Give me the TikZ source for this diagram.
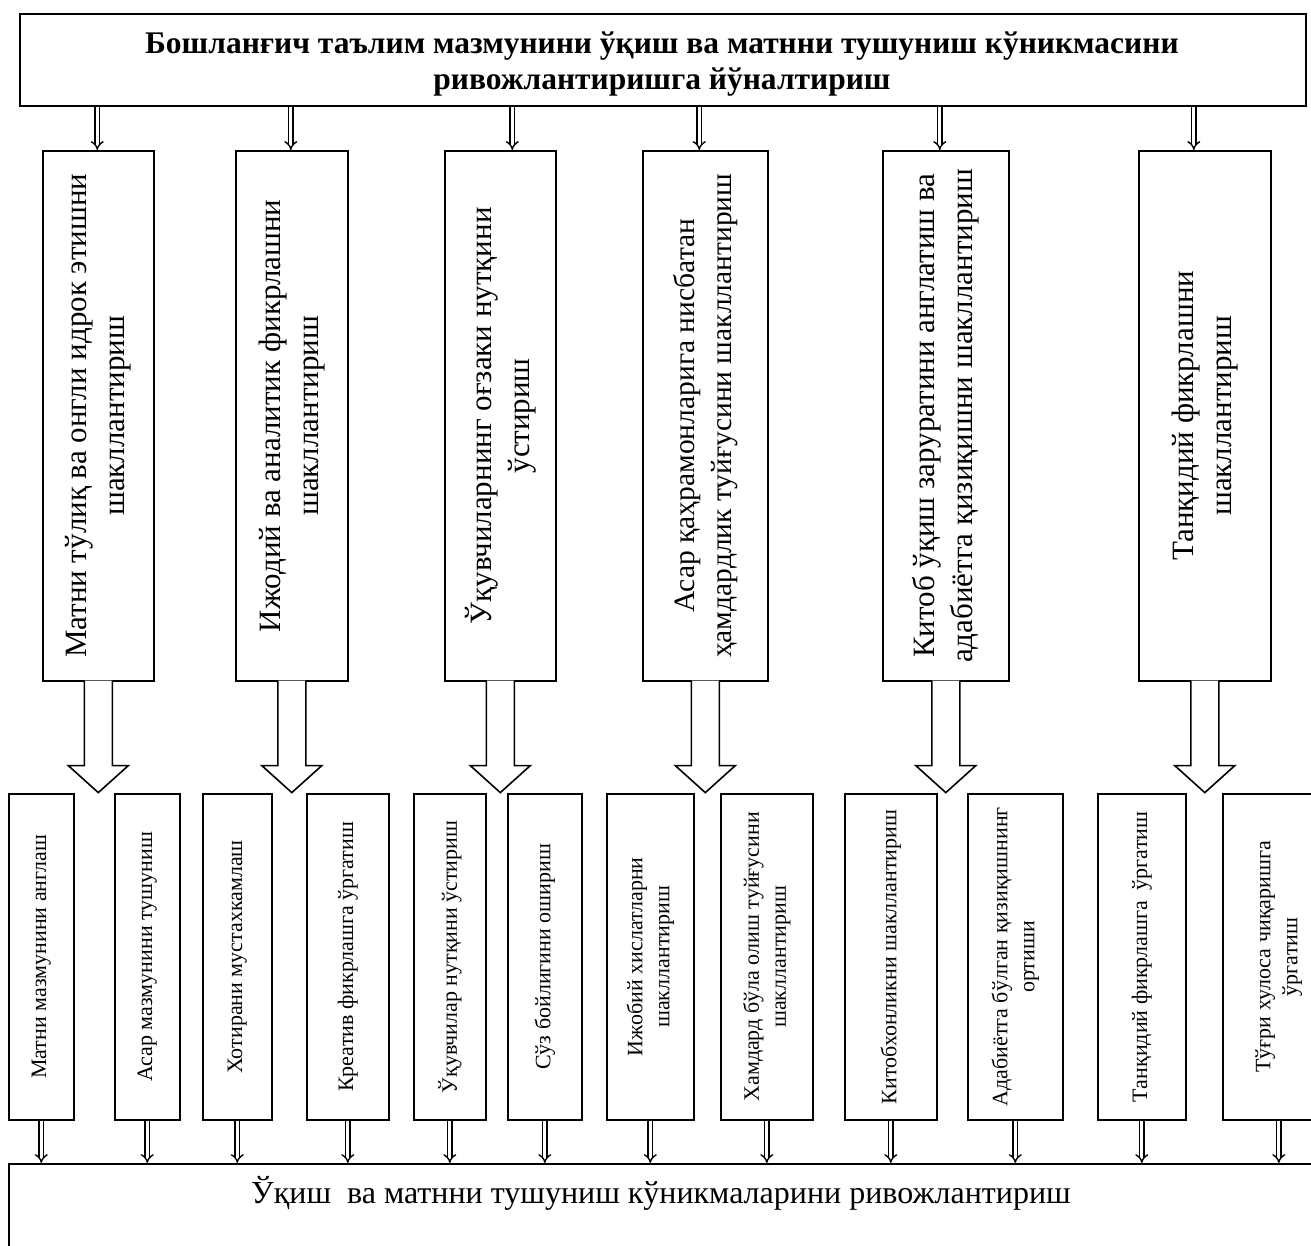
\documentclass[tikz,border=0pt]{standalone}
\usepackage{fontspec}
\setmainfont{Liberation Serif}
\usetikzlibrary{arrows.meta,positioning,calc}

\tikzset{
  box/.style={draw, line width=1.6pt, inner sep=0pt, anchor=north west},
  tallbox/.style={box, minimum height=530},
  smallbox/.style={box, minimum height=326},
  talltext/.style={rotate=90, align=center, font=\fontsize{31}{38}\selectfont},
  smalltext/.style={rotate=90, align=center, font=\fontsize{22}{27}\selectfont},
  dblarrow/.style={double, double distance=3pt, line width=1.4pt, -{Implies}},
  blockarrow/.style={line width=1.6pt, fill=white, line join=miter}
}

\begin{document}
\begin{tikzpicture}[x=1pt, y=-1pt]
\useasboundingbox (0,0) rectangle (1311,1245);
\clip (0,0) rectangle (1311,1245);

% Top box
\node[box, minimum width=1286, minimum height=92] (top) at (19,13) {};
\node[font=\bfseries\fontsize{31.5}{36}\selectfont, align=center] (title) at (662,64)
  {Бошланғич таълим мазмунини ўқиш ва матнни тушуниш кўникмасини\\ривожлантиришга йўналтириш};

% Tall boxes
\node[tallbox, minimum width=111] (t1) at (42,150) {};
\node[tallbox, minimum width=112] (t2) at (235,150) {};
\node[tallbox, minimum width=111] (t3) at (444,150) {};
\node[tallbox, minimum width=125] (t4) at (642,150) {};
\node[tallbox, minimum width=126] (t5) at (882,150) {};
\node[tallbox, minimum width=132] (t6) at (1138,150) {};

\node[talltext] (t1l) at (t1) {Матни тўлиқ ва онгли идрок этишни\\шакллантириш};
\node[talltext] (t2l) at (t2) {Ижодий ва аналитик фикрлашни\\шакллантириш};
\node[talltext] (t3l) at (t3) {Ўқувчиларнинг оғзаки нутқини\\ўстириш};
\node[talltext, font=\fontsize{29.5}{37}\selectfont] (t4l) at (t4)
  {Асар қаҳрамонларига нисбатан\\ҳамдардлик туйғусини шакллантириш};
\node[talltext] (t5l) at (t5) {Китоб ўқиш заруратини англатиш ва\\адабиётга қизиқишни шакллантириш};
\node[talltext] (t6l) at (t6) {Танқидий фикрлашни\\шакллантириш};

% Arrows from the top box
\foreach \i/\d in {1/-1,2/-1,3/12,4/-6,5/-6,6/-11}
  \draw[dblarrow] ($(t\i.north |- top.south)+(\d,0)$) -- ($(t\i.north)+(\d,0)$);

% Block arrows under the tall boxes
\foreach \i in {1,...,6}
  \draw[blockarrow] ([xshift=-14pt,yshift=1pt]t\i.south) -- ++(0,85) -- ++(-16,0)
    -- ++(30,27) -- ++(30,-27) -- ++(-16,0) -- ++(0,-85);

% Small boxes
\foreach \i/\x/\w in {1/8/65,2/114/65,3/202/69,4/306/82,5/413/72,6/507/74,
  7/606/87,8/720/92,9/844/92,10/967/95,11/1097/88,12/1222/112}
  \node[smallbox, minimum width=\w] (s\i) at (\x,793) {};

\node[smalltext] (s1l) at (s1) {Матни мазмунини англаш};
\node[smalltext] (s2l) at (s2) {Асар мазмунини тушуниш};
\node[smalltext] (s3l) at (s3) {Хотирани мустахкамлаш};
\node[smalltext] (s4l) at (s4) {Креатив фикрлашга ўргатиш};
\node[smalltext] (s5l) at (s5) {Ўқувчилар нутқини ўстириш};
\node[smalltext] (s6l) at (s6) {Сўз бойлигини ошириш};
\node[smalltext] (s7l) at (s7) {Ижобий хислатларни\\шакллантириш};
\node[smalltext] (s8l) at (s8) {Хамдард бўла олиш туйғусини\\шакллантириш};
\node[smalltext] (s9l) at (s9) {Китобхонликни шакллантириш};
\node[smalltext] (s10l) at (s10) {Адабиётга бўлган қизиқишнинг\\ортиши};
\node[smalltext] (s11l) at (s11) {Танқидий фикрлашга~ ўргатиш};
\node[smalltext] (s12l) at (s12) {Тўғри хулоса чиқаришга\\ўргатиш};

% Bottom box
\node[box, minimum width=1330, minimum height=150] (bot) at (8,1163) {};
\node[anchor=base, font=\fontsize{32}{38}\selectfont] (botl) at (661,1203)
  {Ўқиш~ ва матнни тушуниш кўникмаларини ривожлантириш};

% Arrows into the bottom box
\foreach \i in {1,...,12}
  \draw[dblarrow] (s\i.south) -- (s\i.south |- bot.north);

\end{tikzpicture}
\end{document}
